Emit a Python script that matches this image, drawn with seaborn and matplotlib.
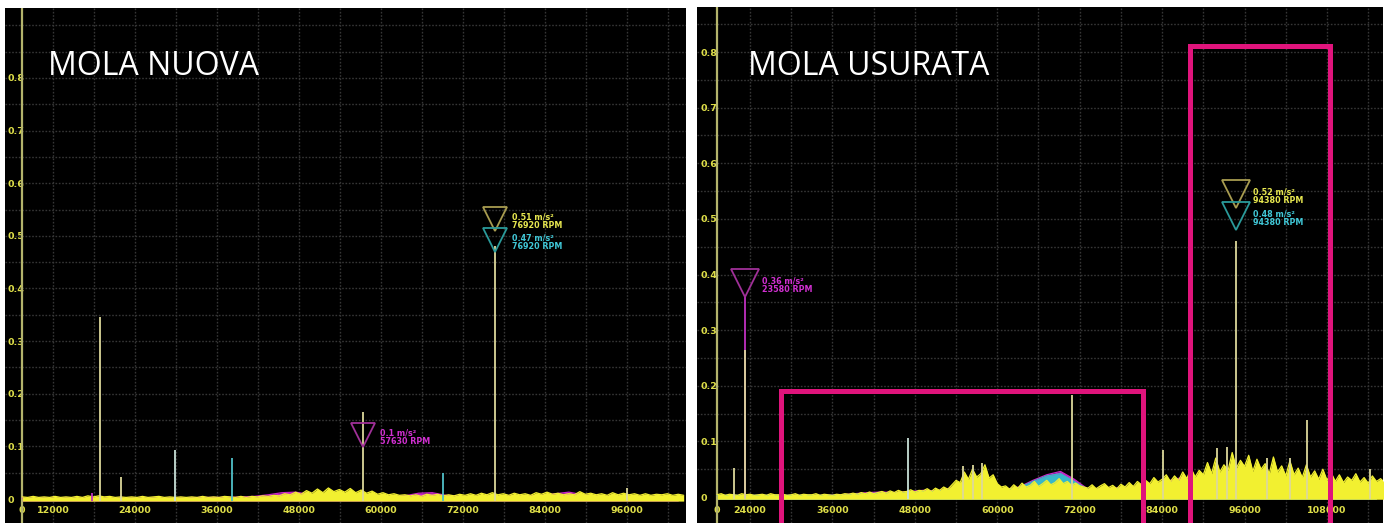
import numpy as np
import matplotlib
matplotlib.use("Agg")
import matplotlib.pyplot as plt
import seaborn as sns
from matplotlib.patches import Rectangle
from matplotlib.transforms import offset_copy

# ---------------- DATA ----------------
panel_titles = ["MOLA NUOVA", "MOLA USURATA"]

left_xlim = [4975, 104640]
left_ylim = [-0.0456, 0.933]
left_axis_x = 7463
right_xlim = [16284, 116153]
right_ylim = [-0.0467, 0.881]
right_axis_x = 19196

y_ticks = [0.0, 0.1, 0.2, 0.3, 0.4, 0.5, 0.6, 0.7, 0.8]
y_tick_labels = ["0", "0.1", "0.2", "0.3", "0.4", "0.5", "0.6", "0.7", "0.8"]
left_x_ticks = [12000, 24000, 36000, 48000, 60000, 72000, 84000, 96000]
right_x_ticks = [24000, 36000, 48000, 60000, 72000, 84000, 96000, 108000]

# --- left (new wheel) noise floor, yellow channel: rpm = 7500 + 800*i
left_yellow_start, left_yellow_step = 7500, 800
left_yellow = [
    0.004, 0.003, 0.005, 0.003, 0.004, 0.003, 0.005, 0.003, 0.004, 0.003,
    0.005, 0.003, 0.006, 0.004, 0.006, 0.004, 0.005, 0.003, 0.004, 0.003,
    0.004, 0.003, 0.005, 0.003, 0.004, 0.005, 0.003, 0.004, 0.003, 0.004,
    0.003, 0.004, 0.003, 0.005, 0.003, 0.004, 0.003, 0.005, 0.004, 0.003,
    0.005, 0.003, 0.005, 0.004, 0.006, 0.005, 0.007, 0.006, 0.010, 0.008,
    0.013, 0.009, 0.016, 0.011, 0.019, 0.012, 0.021, 0.014, 0.018, 0.013,
    0.020, 0.012, 0.017, 0.011, 0.015, 0.009, 0.012, 0.008, 0.010, 0.007,
    0.008, 0.006, 0.008, 0.005, 0.009, 0.007, 0.009, 0.006, 0.008, 0.006,
    0.009, 0.007, 0.010, 0.007, 0.011, 0.008, 0.012, 0.008, 0.010, 0.007,
    0.011, 0.008, 0.010, 0.007, 0.012, 0.009, 0.013, 0.009, 0.011, 0.008,
    0.010, 0.008, 0.014, 0.009, 0.011, 0.008, 0.010, 0.007, 0.012, 0.008,
    0.011, 0.008, 0.010, 0.007, 0.010, 0.007, 0.009, 0.008, 0.010, 0.007,
    0.009, 0.007,
]
# magenta channel: rpm = 7500 + 2000*i
left_magenta_start, left_magenta_step = 7500, 2000
left_magenta = [
    0.002, 0.002, 0.002, 0.002, 0.002, 0.002, 0.002, 0.002, 0.002, 0.002,
    0.002, 0.002, 0.002, 0.003, 0.003, 0.003, 0.004, 0.005, 0.008, 0.012,
    0.013, 0.009, 0.007, 0.007, 0.006, 0.006, 0.005, 0.005, 0.006, 0.011,
    0.012, 0.007, 0.005, 0.005, 0.006, 0.005, 0.006, 0.006, 0.007, 0.010,
    0.013, 0.008, 0.006, 0.005, 0.006, 0.005, 0.005, 0.005, 0.004,
]
left_spike_rpm = [17700, 18880, 21950, 29850, 38200, 57370, 69080, 76690, 96000]
left_spike_val = [0.012, 0.345, 0.042, 0.093, 0.078, 0.165, 0.050, 0.480, 0.020]
left_spike_col = ["m", "y", "y", "w", "c", "y", "c", "y", "y"]

left_marker_rpm = [57370, 76690, 76690]
left_marker_val = [0.10, 0.51, 0.47]
left_marker_col = ["m", "y", "c"]
left_marker_txt = ["0.1 m/s²\n57630 RPM", "0.51 m/s²\n76920 RPM", "0.47 m/s²\n76920 RPM"]

# --- right (worn wheel) noise floor, yellow channel: rpm = 19200 + 600*i
right_yellow_start, right_yellow_step = 19200, 600
right_yellow = [
    0.004, 0.006, 0.003, 0.005, 0.004, 0.003, 0.006, 0.004, 0.005, 0.003,
    0.004, 0.005, 0.003, 0.006, 0.004, 0.004, 0.005, 0.003, 0.004, 0.006,
    0.003, 0.005, 0.004, 0.004, 0.006, 0.003, 0.005, 0.004, 0.003, 0.005,
    0.004, 0.006, 0.005, 0.007, 0.005, 0.008, 0.006, 0.009, 0.006, 0.008,
    0.010, 0.007, 0.011, 0.008, 0.012, 0.009, 0.010, 0.013, 0.009, 0.012,
    0.011, 0.015, 0.010, 0.016, 0.012, 0.018, 0.014, 0.022, 0.030, 0.026,
    0.045, 0.032, 0.050, 0.036, 0.042, 0.058, 0.034, 0.040, 0.024, 0.018,
    0.020, 0.014, 0.022, 0.016, 0.025, 0.018, 0.021, 0.028, 0.019, 0.024,
    0.030, 0.022, 0.026, 0.033, 0.024, 0.028, 0.021, 0.025, 0.020, 0.018,
    0.016, 0.022, 0.015, 0.020, 0.024, 0.017, 0.021, 0.015, 0.023, 0.018,
    0.026, 0.019, 0.028, 0.022, 0.030, 0.024, 0.035, 0.027, 0.032, 0.040,
    0.028, 0.038, 0.030, 0.045, 0.033, 0.052, 0.036, 0.048, 0.040, 0.062,
    0.042, 0.070, 0.045, 0.058, 0.048, 0.080, 0.052, 0.066, 0.055, 0.075,
    0.046, 0.068, 0.050, 0.060, 0.042, 0.072, 0.045, 0.056, 0.038, 0.065,
    0.040, 0.052, 0.035, 0.058, 0.036, 0.047, 0.032, 0.050, 0.030, 0.044,
    0.028, 0.040, 0.026, 0.036, 0.030, 0.042, 0.027, 0.035, 0.025, 0.038,
    0.028, 0.033, 0.026,
]
# magenta / cyan channels: rpm = 19200 + 2000*i
right_mc_start, right_mc_step = 19200, 2000
right_magenta = [
    0.003, 0.003, 0.003, 0.003, 0.003, 0.003, 0.003, 0.003, 0.003, 0.004,
    0.006, 0.008, 0.009, 0.008, 0.010, 0.012, 0.011, 0.016, 0.024, 0.028,
    0.016, 0.014, 0.018, 0.030, 0.040, 0.046, 0.032, 0.014, 0.015, 0.016,
    0.018, 0.020, 0.024, 0.030, 0.036, 0.030, 0.028, 0.030, 0.032, 0.034,
    0.030, 0.028, 0.026, 0.024, 0.022, 0.024, 0.020, 0.020, 0.020,
]
right_cyan = [
    0.003, 0.003, 0.003, 0.003, 0.003, 0.003, 0.003, 0.003, 0.003, 0.003,
    0.005, 0.006, 0.007, 0.007, 0.008, 0.010, 0.010, 0.014, 0.020, 0.024,
    0.014, 0.013, 0.017, 0.028, 0.038, 0.042, 0.028, 0.013, 0.014, 0.015,
    0.016, 0.018, 0.021, 0.026, 0.030, 0.027, 0.025, 0.027, 0.028, 0.030,
    0.027, 0.025, 0.023, 0.021, 0.020, 0.021, 0.018, 0.018, 0.018,
]
right_spike_rpm = [21670, 23270, 23270, 47000, 55010, 56470, 57780, 70880,
                   84125, 91990, 93440, 94750, 99270, 102620, 105090, 114260]
right_spike_val = [0.052, 0.360, 0.265, 0.106, 0.055, 0.058, 0.062, 0.183,
                   0.085, 0.088, 0.090, 0.460, 0.070, 0.070, 0.138, 0.050]
right_spike_col = ["y", "m", "y", "w", "y", "y", "y", "y",
                   "y", "y", "y", "y", "y", "y", "y", "y"]

right_marker_rpm = [23270, 94750, 94750]
right_marker_val = [0.36, 0.52, 0.48]
right_marker_col = ["m", "y", "c"]
right_marker_txt = ["0.36 m/s²\n23580 RPM", "0.52 m/s²\n94380 RPM", "0.48 m/s²\n94380 RPM"]

zone_from = [28500, 88000]
zone_to = [81200, 108400]
zone_top = [0.19, 0.81]

# ---------------- STYLE ----------------
sns.set_theme(style="dark")
plt.rcParams['font.family'] = ['DejaVu Sans']

TRACE = {"y": "#f2f030", "m": "#c828c8", "c": "#38b8c8"}
SPIKE = {"y": "#dcd89a", "m": "#c030c0", "c": "#50c0c8", "w": "#c8e0d8"}
TRI = {"y": "#a89c50", "m": "#a03098", "c": "#2a9a9a"}
LBL = {"y": "#e8e850", "m": "#d030d0", "c": "#40c8d8"}
TICK_COL = "#dede48"
GRID_COL = "#363636"

fig = plt.figure(figsize=(13.89, 5.23), dpi=100, facecolor="white")
axL = fig.add_axes([5 / 1389, 0, 681 / 1389, 515 / 523])
axR = fig.add_axes([697 / 1389, 0, 686 / 1389, 516 / 523])


def grid_and_axes(ax, xlim, ylim, axis_x, xticks, ypad):
    ax.set_facecolor("black")
    ax.set_xlim(xlim)
    ax.set_ylim(ylim)
    for s in ax.spines.values():
        s.set_visible(False)
    for gx in np.arange(6000, xlim[1], 6000):
        if gx > axis_x:
            ax.axvline(gx, color=GRID_COL, lw=1.0, ls=(0, (1.2, 1.2)), zorder=0.5)
    for gy in np.arange(0.05, ylim[1], 0.05):
        ax.axhline(gy, color=GRID_COL, lw=1.0, ls=(0, (1.2, 1.2)), zorder=0.5)
    ax.axvline(axis_x, color="#b4b46c", lw=1.6, zorder=1)
    ax.set_xticks([axis_x] + xticks)
    ax.set_xticklabels(["0"] + [str(v) for v in xticks])
    ax.set_yticks(y_ticks)
    ax.set_yticklabels(y_tick_labels, ha="left")
    ax.tick_params(axis="x", length=0, pad=-12.5, labelsize=6.8, labelcolor=TICK_COL)
    ax.tick_params(axis="y", length=0, pad=ypad, labelsize=6.8, labelcolor=TICK_COL)
    for lbl in ax.get_xticklabels() + ax.get_yticklabels():
        lbl.set_fontweight("bold")
    ax.set_xlabel("")
    ax.set_ylabel("")
    ax.grid(False)


def trace(ax, start, step, vals, key, z):
    x = start + step * np.arange(len(vals))
    y = np.array(vals)
    ax.fill_between(x, -0.004, y, color=TRACE[key], lw=0, zorder=z)
    sns.lineplot(x=x, y=y, ax=ax, color=TRACE[key], lw=0.9, zorder=z + 0.05)


def spikes(ax, rpm, val, col):
    for r, v, c in zip(rpm, val, col):
        ax.vlines(r, -0.003, v, color=SPIKE[c], lw=1.3, zorder=3)


def markers(ax, rpm, val, col, txt, ms, lx, ly):
    trans = offset_copy(ax.transData, fig=fig, y=ms / 2, units="points")
    for r, v, c, t in zip(rpm, val, col, txt):
        ax.plot([r], [v], marker="v", ms=ms, mfc="none", mec=TRI[c], mew=1.3,
                transform=trans, zorder=4)
        ax.annotate(t, xy=(r, v), xytext=(lx, ly), textcoords="offset points",
                    ha="left", va="center", fontsize=5.8, fontweight="bold",
                    color=LBL[c], linespacing=0.95, zorder=5)


# ----- left panel -----
grid_and_axes(axL, left_xlim, left_ylim, left_axis_x, left_x_ticks, -1.5)
trace(axL, left_magenta_start, left_magenta_step, left_magenta, "m", 2.0)
trace(axL, left_yellow_start, left_yellow_step, left_yellow, "y", 2.4)
spikes(axL, left_spike_rpm, left_spike_val, left_spike_col)
markers(axL, left_marker_rpm, left_marker_val, left_marker_col, left_marker_txt, 17, 12, 6.5)
axL.text(0.063, 0.870, panel_titles[0], transform=axL.transAxes, color="white",
         fontsize=23, family="Open Sans", va="baseline", ha="left", zorder=6)

# ----- right panel -----
grid_and_axes(axR, right_xlim, right_ylim, right_axis_x, right_x_ticks, -2.2)
trace(axR, right_mc_start, right_mc_step, right_magenta, "m", 2.0)
trace(axR, right_mc_start, right_mc_step, right_cyan, "c", 2.2)
trace(axR, right_yellow_start, right_yellow_step, right_yellow, "y", 2.4)
spikes(axR, right_spike_rpm, right_spike_val, right_spike_col)
markers(axR, right_marker_rpm, right_marker_val, right_marker_col, right_marker_txt, 20, 12, 8.6)
axR.text(0.0743, 0.868, panel_titles[1], transform=axR.transAxes, color="white",
         fontsize=23, family="Open Sans", va="baseline", ha="left", zorder=6)

for x0, x1, top in zip(zone_from, zone_to, zone_top):
    axR.add_patch(Rectangle((x0, right_ylim[0] - 0.1), x1 - x0, top - right_ylim[0] + 0.1,
                            fill=False, ec="#e0147c", lw=3.6, zorder=7))

fig.savefig("out.png", dpi=100, facecolor="white")
